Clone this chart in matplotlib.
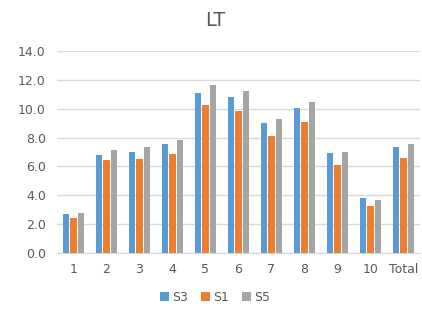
import numpy as np
import matplotlib.pyplot as plt

categories = ["1", "2", "3", "4", "5", "6", "7", "8", "9", "10", "Total"]
s3 = [2.67, 6.78, 6.99, 7.57, 11.1, 10.78, 8.99, 10.06, 6.96, 3.83, 7.35]
s1 = [2.41, 6.41, 6.48, 6.85, 10.25, 9.85, 8.11, 9.11, 6.08, 3.23, 6.56]
s5 = [2.76, 7.11, 7.36, 7.83, 11.65, 11.2, 9.32, 10.43, 7.03, 3.69, 7.53]

series = [("S3", s3, "#5B9BD5"), ("S1", s1, "#ED7D31"), ("S5", s5, "#A5A5A5")]

fig = plt.figure(figsize=(4.22, 3.13), dpi=100)
ax = fig.add_axes([0.135, 0.192, 0.86, 0.645])

x = np.arange(len(categories))
w = 0.19
gap = 0.22
for i, (name, vals, col) in enumerate(series):
    ax.bar(x + (i - 1) * gap, vals, width=w, color=col, label=name, zorder=3)

ax.set_ylim(0, 14)
ax.set_xlim(-0.5, len(categories) - 0.5)
ax.set_yticks(np.arange(0, 15, 2))
ax.set_yticklabels([f"{v:.1f}" for v in np.arange(0, 15, 2)])
ax.set_xticks(x)
ax.set_xticklabels(categories)
ax.grid(axis="y", color="#D9D9D9", linewidth=1, zorder=0)
for s in ["top", "right", "left"]:
    ax.spines[s].set_visible(False)
ax.spines["bottom"].set_color("#D9D9D9")
ax.tick_params(axis="both", length=0, colors="#595959", labelsize=9)
ax.tick_params(axis="x", pad=7)
ax.tick_params(axis="y", pad=8)

fig.text(0.51, 0.935, "LT", ha="center", va="center", fontsize=14, color="#595959")

fig.legend(loc="center", bbox_to_anchor=(0.51, 0.05), ncol=3, frameon=False,
           fontsize=9, handlelength=0.7, handleheight=0.7, handletextpad=0.3,
           columnspacing=1.0, labelcolor="#595959")

fig.savefig("out.png", dpi=100)
